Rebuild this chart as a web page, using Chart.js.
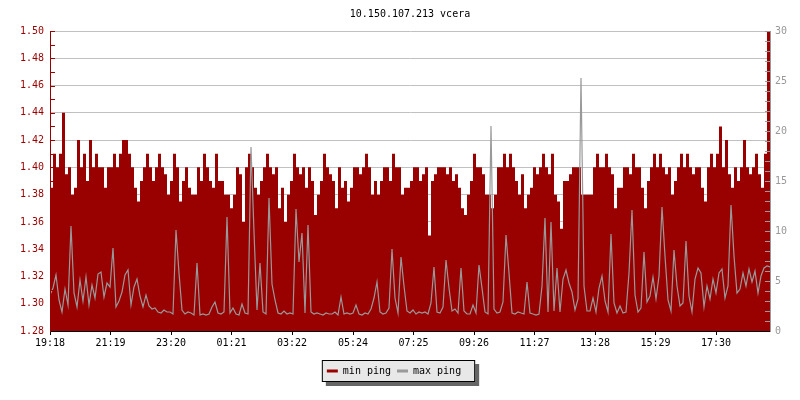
<!DOCTYPE html>
<html>
<head>
<meta charset="utf-8">
<title>ping</title>
<script src="https://cdn.jsdelivr.net/npm/chart.js@4.4.1/dist/chart.umd.min.js"></script>
<style>
    body { margin: 0; background: #fff; }
    #wrap { width: 800px; height: 400px; }
</style>
</head>
<body>
<div id="wrap"><canvas id="myChart" width="800" height="400"></canvas></div>
<script>
var chartTitle = "10.150.107.213 vcera";
var stepMinutes = 6;   // one sample every 6 minutes, 24 hours
var timeTickPos = [0, 121, 242, 363, 484, 606, 727, 848, 969, 1090, 1211, 1332];
var timeLabels = ["19:18", "21:19", "23:20", "01:21", "03:22", "05:24", "07:25", "09:26", "11:27", "13:28", "15:29", "17:30"];
var leftTicks = [1.28, 1.30, 1.32, 1.34, 1.36, 1.38, 1.40, 1.42, 1.44, 1.46, 1.48, 1.50];
var rightTicks = [0, 5, 10, 15, 20, 25, 30];

// min ping, left axis
var minPing = [
    1.385,1.41,1.40,1.41,1.44,1.395,1.40,1.38,1.385,1.42,
    1.40,1.41,1.39,1.42,1.40,1.41,1.40,1.40,1.385,1.40,
    1.40,1.41,1.40,1.41,1.42,1.42,1.41,1.40,1.385,1.375,
    1.39,1.40,1.41,1.40,1.39,1.40,1.41,1.40,1.395,1.38,
    1.39,1.41,1.40,1.375,1.39,1.40,1.385,1.38,1.38,1.40,
    1.39,1.41,1.40,1.39,1.385,1.41,1.39,1.39,1.38,1.38,
    1.37,1.38,1.40,1.395,1.36,1.40,1.41,1.40,1.385,1.38,
    1.39,1.40,1.41,1.40,1.395,1.40,1.37,1.385,1.36,1.38,
    1.39,1.41,1.40,1.395,1.40,1.385,1.40,1.39,1.365,1.38,
    1.39,1.41,1.40,1.395,1.39,1.37,1.40,1.385,1.39,1.375,
    1.385,1.40,1.40,1.395,1.40,1.41,1.40,1.38,1.39,1.38,
    1.39,1.40,1.40,1.39,1.41,1.40,1.40,1.38,1.385,1.385,
    1.39,1.40,1.40,1.39,1.395,1.40,1.35,1.39,1.395,1.40,
    1.40,1.40,1.395,1.40,1.39,1.395,1.385,1.37,1.365,1.38,
    1.39,1.41,1.40,1.40,1.395,1.38,1.38,1.37,1.38,1.40,
    1.40,1.41,1.40,1.41,1.40,1.39,1.38,1.395,1.37,1.38,
    1.385,1.40,1.395,1.40,1.41,1.40,1.395,1.41,1.38,1.375,
    1.355,1.39,1.39,1.395,1.40,1.40,1.40,1.38,1.38,1.38,
    1.38,1.40,1.41,1.40,1.40,1.41,1.40,1.395,1.37,1.385,
    1.385,1.40,1.40,1.395,1.41,1.40,1.40,1.385,1.37,1.39,
    1.40,1.41,1.40,1.41,1.40,1.395,1.40,1.38,1.39,1.40,
    1.41,1.40,1.41,1.40,1.395,1.40,1.40,1.385,1.375,1.40,
    1.41,1.40,1.41,1.43,1.40,1.42,1.395,1.385,1.40,1.39,
    1.40,1.42,1.40,1.395,1.40,1.41,1.395,1.385,1.41,1.50,1.50
];

// max ping, right axis
var maxPing = [
    3.6,4.3,5.6,3.1,1.9,4.2,2.6,10.5,3.8,2.4,
    5.1,3.0,5.4,2.6,4.6,3.3,5.7,5.9,3.4,4.8,
    4.4,8.3,2.4,3.0,3.9,5.6,6.1,2.6,4.4,5.2,
    3.5,2.4,3.6,2.5,2.2,2.3,1.9,1.8,2.1,1.9,
    1.9,1.7,10.1,5.8,2.1,1.7,1.9,1.8,1.6,6.8,
    1.6,1.7,1.6,1.7,2.4,2.9,1.8,1.7,1.9,11.4,
    1.8,2.3,1.7,1.6,2.7,1.8,1.7,18.4,9.9,2.1,
    6.8,1.9,1.7,13.3,4.7,3.1,1.8,1.7,2.0,1.7,
    1.8,1.7,12.2,6.9,9.8,1.8,10.6,1.9,1.7,1.8,
    1.7,1.6,1.8,1.7,1.7,1.9,1.6,3.4,1.7,1.8,
    1.7,1.8,2.6,1.7,1.6,1.8,1.7,2.2,3.3,4.9,
    1.9,1.7,1.8,2.3,8.2,3.3,1.8,7.4,4.5,2.0,
    1.8,2.1,1.7,1.9,1.8,1.9,1.7,2.8,6.4,1.9,
    1.8,2.4,7.1,4.3,2.0,2.2,1.8,6.3,2.0,1.7,
    1.7,2.6,1.8,6.6,4.3,1.9,1.7,20.5,2.2,1.8,
    1.9,2.9,9.6,5.8,1.8,1.7,1.9,1.8,1.7,4.9,
    1.8,1.7,1.6,1.7,4.5,11.3,1.9,10.9,2.0,6.3,
    1.9,5.2,6.1,4.8,3.9,2.1,3.2,25.3,4.5,2.0,
    2.0,3.3,1.9,4.3,5.5,3.0,1.9,9.7,2.8,1.8,
    2.5,1.8,1.9,5.8,12.1,3.6,1.9,2.3,7.9,2.9,
    3.5,5.4,3.2,5.5,12.4,7.5,3.1,2.0,8.1,4.5,
    2.5,2.8,9.0,3.5,1.9,5.2,6.3,5.8,2.4,4.5,
    3.2,5.2,3.8,5.8,6.2,3.3,4.5,12.6,7.5,3.8,
    4.2,5.8,4.5,6.2,4.9,6.0,3.8,5.5,6.3,6.5,6.4
];

function toPoints(arr) {
    return arr.map(function (v, i) {
        return { x: i * stepMinutes, y: v };
    });
}

var FONT = { family: "'DejaVu Sans Mono', monospace", size: 10, weight: "normal" };

// grey box with shadow behind the legend
var legendBox = {
    id: "legendBox",
    afterLayout: function (chart) {
        chart.legend.left -= 16;
        chart.legend.right -= 16;
    },
    beforeDraw: function (chart) {
        var boxes = chart.legend.legendHitBoxes;
        if (!boxes || !boxes.length) return;
        var first = boxes[0], last = boxes[boxes.length - 1];
        var l = first.left - 5;
        var r = last.left + last.width + 14;
        var t = first.top - 6;
        var b = first.top + first.height + 6;
        var ctx = chart.ctx;
        ctx.save();
        ctx.fillStyle = "#666666";
        ctx.fillRect(l + 4, t + 4, r - l, b - t);
        ctx.fillStyle = "#e8e8e8";
        ctx.fillRect(l, t, r - l, b - t);
        ctx.strokeStyle = "#000";
        ctx.lineWidth = 1;
        ctx.strokeRect(l + 0.5, t + 0.5, r - l - 1, b - t - 1);
        ctx.restore();
    }
};

// small inward tick marks on both value axes
var axisTicks = {
    id: "axisTicks",
    afterDatasetsDraw: function (chart) {
        var ctx = chart.ctx, a = chart.chartArea;
        var y = chart.scales.y, y1 = chart.scales.y1;
        ctx.save();
        ctx.lineWidth = 1;
        ctx.strokeStyle = "#990000";
        for (var k = 0; k <= 22; k++) {
            var py = Math.round(y.getPixelForValue(1.28 + k * 0.01)) + 0.5;
            ctx.beginPath();
            ctx.moveTo(a.left, py);
            ctx.lineTo(a.left + 5, py);
            ctx.stroke();
        }
        ctx.strokeStyle = "#999999";
        for (k = 0; k <= 30; k++) {
            var py1 = Math.round(y1.getPixelForValue(k)) + 0.5;
            ctx.beginPath();
            ctx.moveTo(a.right, py1);
            ctx.lineTo(a.right - 5, py1);
            ctx.stroke();
        }
        ctx.restore();
    }
};

new Chart("myChart", {
    type: "line",
    data: {
        datasets: [{
            label: "min ping",
            data: toPoints(minPing),
            yAxisID: "y",
            stepped: true,
            fill: "start",
            backgroundColor: "#990000",
            borderColor: "#990000",
            borderWidth: 0,
            pointRadius: 0,
            order: 1
        }, {
            label: "max ping",
            data: toPoints(maxPing),
            yAxisID: "y1",
            fill: false,
            tension: 0,
            backgroundColor: "#999999",
            borderColor: "#999999",
            borderWidth: 1.2,
            pointRadius: 0,
            order: 0
        }]
    },
    options: {
        responsive: false,
        animation: false,
        layout: { padding: { left: 20, right: 0, top: 0, bottom: 14 } },
        scales: {
            x: {
                type: "linear",
                min: 0,
                max: minPing.length * stepMinutes - stepMinutes,
                afterBuildTicks: function (scale) {
                    scale.ticks = timeTickPos.map(function (v) { return { value: v }; });
                },
                afterFit: function (scale) { scale.height = 29; },
                grid: { display: true, drawOnChartArea: false, drawTicks: true, tickLength: 4, color: "#000" },
                border: { display: true, color: "#000", width: 1, z: 1 },
                ticks: {
                    autoSkip: false,
                    maxRotation: 0,
                    padding: 2,
                    color: "#000",
                    font: FONT,
                    callback: function (v, i) { return timeLabels[i]; }
                }
            },
            y: {
                position: "left",
                min: 1.28,
                max: 1.50,
                afterBuildTicks: function (scale) {
                    scale.ticks = leftTicks.map(function (v) { return { value: v }; });
                },
                afterFit: function (scale) { scale.width = 30; },
                grid: { color: "#c0c0c0", lineWidth: 1, drawTicks: false },
                border: { display: true, color: "#990000", width: 1, z: 1 },
                ticks: {
                    padding: 6,
                    color: "#990000",
                    font: FONT,
                    callback: function (v) { return v.toFixed(2); }
                }
            },
            y1: {
                position: "right",
                min: 0,
                max: 30,
                afterBuildTicks: function (scale) {
                    scale.ticks = rightTicks.map(function (v) { return { value: v }; });
                },
                afterFit: function (scale) { scale.width = 30; },
                grid: { display: false, drawTicks: false },
                border: { display: true, color: "#999999", width: 1, z: 1 },
                ticks: { padding: 5, color: "#999999", font: FONT }
            }
        },
        plugins: {
            title: {
                display: true,
                text: chartTitle,
                color: "#000",
                font: FONT,
                padding: { top: 8, bottom: 11 }
            },
            legend: {
                position: "bottom",
                labels: {
                    boxWidth: 11,
                    boxHeight: 3,
                    padding: 6,
                    color: "#000",
                    font: FONT,
                    sort: function (a, b) { return a.datasetIndex - b.datasetIndex; },
                    generateLabels: function (chart) {
                        var items = Chart.defaults.plugins.legend.labels.generateLabels(chart);
                        items.forEach(function (it) { it.lineWidth = 0; });
                        return items;
                    }
                }
            },
            tooltip: { enabled: false }
        }
    },
    plugins: [legendBox, axisTicks]
});
</script>
</body>
</html>
